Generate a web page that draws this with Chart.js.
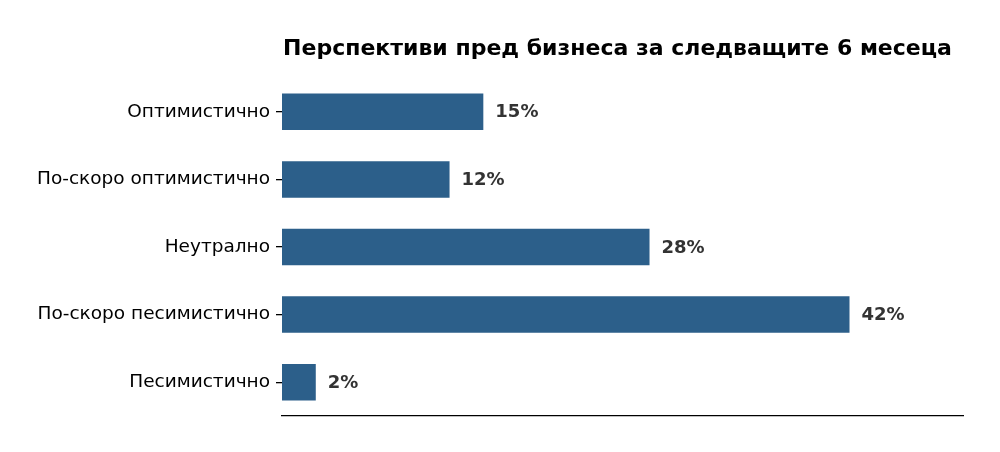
<!DOCTYPE html>
<html lang="bg">
<head>
  <meta charset="UTF-8" />
  <title>Перспективи пред бизнеса</title>
  <script src="https://cdn.jsdelivr.net/npm/chart.js"></script>
  <style>
    html, body { margin: 0; padding: 0; background: #fff; }
    #wrap { width: 1000px; height: 452px; }
  </style>
</head>
<body>
  <div id="wrap"><canvas id="outlookChart" width="1000" height="452"></canvas></div>

  <script>
    const categories = ['Оптимистично', 'По-скоро оптимистично', 'Неутрално', 'По-скоро песимистично', 'Песимистично'];
    const shares = [14.9, 12.4, 27.2, 42, 2.5];
    const shareLabels = ['15%', '12%', '28%', '42%', '2%'];
    const titleText = 'Перспективи пред бизнеса за следващите 6 месеца';

    const fontFamily = '"DejaVu Sans", sans-serif';

    // value labels to the right of each bar
    const valueLabels = {
      id: 'valueLabels',
      afterDatasetsDraw(chart) {
        const ctx = chart.ctx;
        const meta = chart.getDatasetMeta(0);
        ctx.save();
        ctx.font = 'bold 18px ' + fontFamily;
        ctx.fillStyle = '#333333';
        ctx.textAlign = 'left';
        ctx.textBaseline = 'middle';
        meta.data.forEach((bar, i) => {
          ctx.fillText(shareLabels[i], bar.x + 12, bar.y + 1);
        });
        ctx.restore();
      }
    };

    // title centred over the plot area
    const plotTitle = {
      id: 'plotTitle',
      afterDraw(chart) {
        const ctx = chart.ctx;
        const area = chart.chartArea;
        ctx.save();
        ctx.font = 'bold 22px ' + fontFamily;
        ctx.fillStyle = '#000';
        ctx.textAlign = 'center';
        ctx.textBaseline = 'alphabetic';
        ctx.fillText(titleText, (area.left + area.right) / 2 - 5, 55);
        ctx.restore();
      }
    };

    new Chart(document.getElementById('outlookChart').getContext('2d'), {
      type: 'bar',
      data: {
        labels: categories,
        datasets: [{
          data: shares,
          backgroundColor: '#2c5f8a',
          borderWidth: 0,
          barPercentage: 0.54,
          categoryPercentage: 1.0
        }]
      },
      options: {
        indexAxis: 'y',
        responsive: false,
        animation: false,
        layout: { padding: { left: 0, right: 37, top: 78, bottom: 36 } },
        plugins: {
          legend: { display: false },
          tooltip: { enabled: false },
          title: { display: false }
        },
        scales: {
          x: {
            min: 0,
            max: 50.4,
            ticks: { display: false },
            grid: { display: false },
            border: { display: true, color: '#000', width: 1.3 },
            afterFit(scale) { scale.height = 0; }
          },
          y: {
            offset: true,
            ticks: {
              color: '#000',
              font: { family: fontFamily, size: 18.5 },
              padding: 6
            },
            grid: {
              display: true,
              offset: false,
              drawOnChartArea: false,
              drawTicks: true,
              tickLength: 6,
              color: '#000',
              lineWidth: 1.3
            },
            border: { display: false },
            afterFit(scale) { scale.width = 282; }
          }
        }
      },
      plugins: [valueLabels, plotTitle]
    });
  </script>
</body>
</html>
